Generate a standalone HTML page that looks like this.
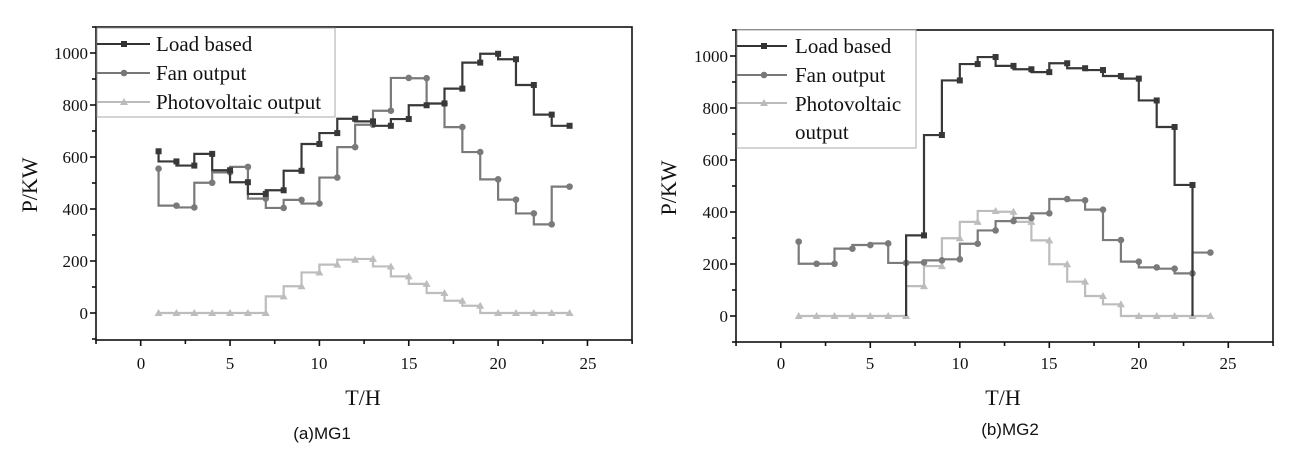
<!DOCTYPE html>
<html><head><meta charset="utf-8"><style>
html,body{margin:0;padding:0;background:#fff;}
svg{display:block;}
text{font-family:"Liberation Serif",serif;fill:#111;}
.tk{font-size:17px;}
.cap{font-family:"Liberation Sans",sans-serif;font-size:17px;}
.lg{font-size:21px;}
</style></head><body>
<svg id="s" width="1290" height="466" viewBox="0 0 1290 466" xmlns="http://www.w3.org/2000/svg">
<rect width="1290" height="466" fill="#fff"/>
<g id="axes" stroke="#111" stroke-width="1.6" fill="none"></g>
<g id="series"></g>
<g class="tk" text-anchor="end">
<text x="88" y="59">1000</text><text x="88" y="111">800</text><text x="88" y="163">600</text><text x="88" y="215">400</text><text x="88" y="267">200</text><text x="88" y="319">0</text>
</g>
<g class="tk" text-anchor="middle">
<text x="141" y="369">0</text><text x="230" y="369">5</text><text x="319" y="369">10</text><text x="409" y="369">15</text><text x="498" y="369">20</text><text x="588" y="369">25</text>
</g>
<text x="363" y="405" font-size="22" text-anchor="middle">T/H</text>
<text x="0" y="0" font-size="22" text-anchor="middle" transform="translate(37,185) rotate(-90)">P/KW</text>
<text class="cap" x="322" y="439" text-anchor="middle">(a)MG1</text>
<g class="tk" text-anchor="end">
<text x="728" y="62">1000</text><text x="728" y="114">800</text><text x="728" y="166">600</text><text x="728" y="218">400</text><text x="728" y="270">200</text><text x="728" y="322">0</text>
</g>
<g class="tk" text-anchor="middle">
<text x="781" y="369">0</text><text x="870" y="369">5</text><text x="960" y="369">10</text><text x="1049" y="369">15</text><text x="1139" y="369">20</text><text x="1228" y="369">25</text>
</g>
<text x="1003" y="405" font-size="22" text-anchor="middle">T/H</text>
<text x="0" y="0" font-size="22" text-anchor="middle" transform="translate(676,188) rotate(-90)">P/KW</text>
<text class="cap" x="1010" y="435" text-anchor="middle">(b)MG2</text>
<rect x="97" y="28" width="238" height="89" fill="#fff" stroke="#aaa" stroke-width="1"/>
<line x1="97" y1="44" x2="150" y2="44" stroke="#333" stroke-width="2"/><rect x="121" y="41" width="6" height="6" fill="#333"/>
<line x1="97" y1="73" x2="150" y2="73" stroke="#777" stroke-width="2"/><circle cx="124" cy="73" r="3.3" fill="#777"/>
<line x1="97" y1="102" x2="150" y2="102" stroke="#bbb" stroke-width="2"/><path d="M124,98 L128,105 L120,105Z" fill="#bbb"/>
<text class="lg" x="156" y="51">Load based</text>
<text class="lg" x="156" y="80">Fan output</text>
<text class="lg" x="156" y="109">Photovoltaic output</text>
<rect x="737" y="30" width="179" height="118" fill="#fff" stroke="#aaa" stroke-width="1"/>
<line x1="737" y1="46" x2="787" y2="46" stroke="#333" stroke-width="2"/><rect x="761" y="43" width="6" height="6" fill="#333"/>
<line x1="737" y1="75" x2="787" y2="75" stroke="#777" stroke-width="2"/><circle cx="764" cy="75" r="3.3" fill="#777"/>
<line x1="737" y1="103" x2="787" y2="103" stroke="#bbb" stroke-width="2"/><path d="M764,99 L768,106 L760,106Z" fill="#bbb"/>
<text class="lg" x="795" y="53">Load based</text>
<text class="lg" x="795" y="82">Fan output</text>
<text class="lg" x="795" y="111">Photovoltaic</text>
<text class="lg" x="795" y="139">output</text>
</svg>
<script>
(function(){
var NS="http://www.w3.org/2000/svg";
var axes=document.getElementById('axes'), ser=document.getElementById('series');
function el(p,t,a){var e=document.createElementNS(NS,t);for(var k in a)e.setAttribute(k,a[k]);p.appendChild(e);return e;}
function chart(L,R,T,B,x0,sx,y0,sy,data){
  el(axes,'rect',{x:L,y:T,width:R-L,height:B-T});
  for(var i=-2;i<=11;i++){var y=y0-sy*i*100; if(y<T-1||y>B+1)continue; var len=(i%2==0)?6:4; el(axes,'line',{x1:L-len,y1:y,x2:L,y2:y});}
  for(var j=-1;j<=11;j++){var x=x0+sx*j*2.5; if(x<L-1||x>R+1)continue; var len=(j%2==0)?6:4; el(axes,'line',{x1:x,y1:B,x2:x,y2:B+len});}
  data.forEach(function(s){
    var pts=s.v, d='';
    for(var k=0;k<pts.length;k++){var px=x0+sx*pts[k][0],py=y0-sy*pts[k][1];
      if(k==0)d='M'+px+','+py; else d+=' V'+py+' H'+px;}
    if(s.endV!==undefined){d+=' V'+(y0-sy*s.endV);}
    el(ser,'path',{d:d,fill:'none',stroke:s.c,'stroke-width':2.2});
    pts.forEach(function(p,k){ if(s.skip&&s.skip.indexOf(k)>=0)return;
      var px=x0+sx*p[0],py=y0-sy*p[1];
      if(s.m=='s')el(ser,'rect',{x:px-3,y:py-3,width:6,height:6,fill:s.c});
      else if(s.m=='c')el(ser,'circle',{cx:px,cy:py,r:3.3,fill:s.c});
      else el(ser,'path',{d:'M'+px+','+(py-4)+' L'+(px+4)+','+(py+3)+' L'+(px-4)+','+(py+3)+'Z',fill:s.c});
    });
  });
}
function mk(a,start){return a.map(function(v,i){return [i+(start||1),v];});}
var Lload=[622,583,567,612,549,503,458,472,547,650,692,747,737,720,746,799,806,863,963,997,976,877,763,720];
var Lfan=[555,413,406,501,541,562,440,404,435,421,521,638,724,778,904,903,805,715,619,514,436,383,341,486];
var Lpv=[0,0,0,0,0,0,0,64,103,156,186,205,208,179,141,112,77,47,28,0,0,0,0,0];
chart(96,632,27,340,140.7,17.87,313,0.26,[
 {v:mk(Lpv),c:'#bdbdbd',m:'t'},{v:mk(Lfan),c:'#7a7a7a',m:'c'},{v:mk(Lload),c:'#383838',m:'s'}]);
var Rload=[0,310,696,906,969,996,962,949,938,972,953,946,923,913,829,727,504];
var Rfan=[286,201,201,259,273,279,204,206,214,218,278,329,365,377,395,450,445,409,292,209,187,182,164,244];
var Rpv=[0,0,0,0,0,0,0,115,192,299,362,404,401,362,291,199,132,77,45,0,0,0,0,0];
chart(736,1273,30,342,780.8,17.9,316,0.26,[
 {v:mk(Rpv),c:'#bdbdbd',m:'t'},{v:mk(Rfan),c:'#7a7a7a',m:'c'},{v:mk(Rload,7),c:'#383838',m:'s',skip:[0],endV:0}]);
})();
</script>
</body></html>
